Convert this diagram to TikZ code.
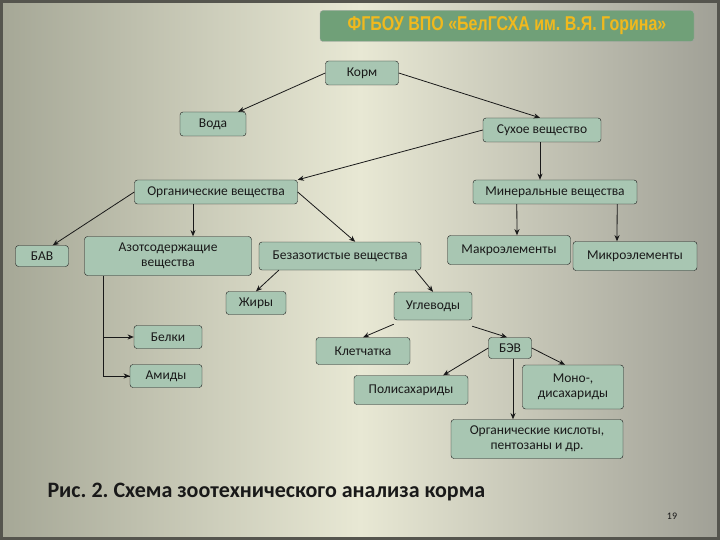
\documentclass[tikz,border=0pt]{standalone}
\usepackage{fontspec}
\setmainfont{Carlito}
\newfontfamily\headfont{Liberation Sans}
\usepackage{tikz}
\usetikzlibrary{arrows.meta,positioning,calc}
\definecolor{ink}{RGB}{25,25,25}
\definecolor{boxfill}{RGB}{168,198,178}
\definecolor{bgleft}{RGB}{165,167,150}
\definecolor{bgmid}{RGB}{232,232,212}
\definecolor{bgright}{RGB}{160,160,150}
\definecolor{frame}{RGB}{85,85,78}
\definecolor{headfill}{RGB}{112,160,120}
\definecolor{headtext}{RGB}{240,185,30}
\tikzset{
  box/.style={draw=ink,rounded corners=3pt,fill=boxfill,inner sep=2pt,
    font=\fontsize{13.5}{15}\selectfont,align=center,text=ink},
  arr/.style={-{Stealth[length=2.2mm,width=1.8mm]},thick,ink},
  ln/.style={thick,ink},
}
\frenchspacing
\begin{document}
\begin{tikzpicture}[x=1pt,y=-1pt]
  % background
  \shade[left color=bgleft,right color=bgright,middle color=bgmid] (0,0) rectangle (720,540);
  \draw[frame,line width=3pt] (1.5,1.5) rectangle (718.5,538.5);
  \useasboundingbox (0,0) rectangle (720,540);
  % header
  \node[draw=gray!70,fill=headfill,rounded corners=3pt,minimum width=374pt,minimum height=31pt,
    font=\headfont\bfseries\fontsize{20}{22}\selectfont,text=headtext] (head) at (507,26)
    {\scalebox{0.8}[1]{ФГБОУ ВПО «БелГСХА им. В.Я. Горина»}};

  % nodes
  \node[box,minimum width=73pt,minimum height=24pt] (korm) at (362,73) {Корм};
  \node[box,minimum width=66pt,minimum height=24pt] (voda) at (213,124) {Вода};
  \node[box,minimum width=118pt,minimum height=24pt] (sukh) at (542,130) {Сухое вещество};
  \node[box,minimum width=163pt,minimum height=24pt] (org) at (216,192) {Органические вещества};
  \node[box,minimum width=164pt,minimum height=24pt] (min) at (555,192) {Минеральные вещества};
  \node[box,minimum width=53pt,minimum height=21pt] (bav) at (42,256) {БАВ};
  \node[box,minimum width=167pt,minimum height=39pt] (azot) at (168,256) {Азотсодержащие\\вещества};
  \node[box,minimum width=162pt,minimum height=28pt] (bez) at (340,256) {Безазотистые вещества};
  \node[box,minimum width=123pt,minimum height=29pt] (makro) at (509,250) {Макроэлементы};
  \node[box,minimum width=124pt,minimum height=29pt] (mikro) at (635,256) {Микроэлементы};
  \node[box,minimum width=60pt,minimum height=23pt] (zhir) at (256,303) {Жиры};
  \node[box,minimum width=78pt,minimum height=28pt] (ugl) at (433,306) {Углеводы};
  \node[box,minimum width=68pt,minimum height=23pt] (belki) at (168,337) {Белки};
  \node[box,minimum width=72pt,minimum height=23pt] (amid) at (166,376) {Амиды};
  \node[box,minimum width=94pt,minimum height=27pt] (kletch) at (363,351) {Клетчатка};
  \node[box,minimum width=43pt,minimum height=21pt] (bev) at (510,348) {БЭВ};
  \node[box,minimum width=114pt,minimum height=29pt] (poli) at (411,390) {Полисахариды};
  \node[box,minimum width=101pt,minimum height=44pt] (mono) at (573,387) {Моно-,\\дисахариды};
  \node[box,minimum width=172pt,minimum height=39pt] (kisl) at (537,439) {Органические кислоты,\\пентозаны и др.};

  % connectors
  \draw[arr] (korm.west) -- ([xshift=-8pt]voda.north east);
  \draw[arr] (korm.east) -- ([xshift=-2pt]sukh.north);
  \draw[arr] (sukh.west) -- (org.north east);
  \draw[arr] ([xshift=-2pt]sukh.south) -- ([xshift=-15pt]min.north);
  \draw[arr] (org.west) -- ([xshift=-16pt]bav.north east);
  \draw[arr] ([xshift=-23pt]org.south) -- ([xshift=25pt]azot.north);
  \draw[arr] (org.east) -- ([xshift=-66pt]bez.north east);
  \draw[arr] ([xshift=44pt]min.south west) -- ([xshift=8pt]makro.north);
  \draw[arr] ([xshift=-20pt]min.south east) -- ([xshift=-18pt]mikro.north);
  \draw[arr] ([xshift=20pt]bez.south west) -- (zhir.north);
  \draw[arr] ([xshift=-6pt]bez.south east) -- (ugl.north);
  \draw[arr] ([yshift=-4pt]ugl.south west) -- (kletch.north);
  \draw[arr] ([yshift=-6pt]ugl.south east) -- ([xshift=-3pt]bev.north);
  \draw[arr] (bev.west) -- ([xshift=-25pt]poli.north east);
  \draw[arr] (bev.east) -- ([xshift=-8pt]mono.north);
  \draw[arr] ([xshift=3pt]bev.south) -- ([xshift=-24pt]kisl.north);
  \coordinate (azdown) at ([xshift=19pt]azot.south west);
  \draw[ln] (azdown) |- (amid.west);
  \draw[arr] (azdown |- belki.west) -- (belki.west);
  \draw[arr] (azdown |- amid.west) -- (amid.west);

  % caption
  \node[anchor=base west,font=\bfseries\fontsize{22}{24}\selectfont,text=ink] (capt) at (44,497)
    {Рис. 2. Схема зоотехнического анализа корма};
  \node[font=\fontsize{10}{11}\selectfont,text=ink] (pnum) at (672,516) {19};
\end{tikzpicture}
\end{document}
